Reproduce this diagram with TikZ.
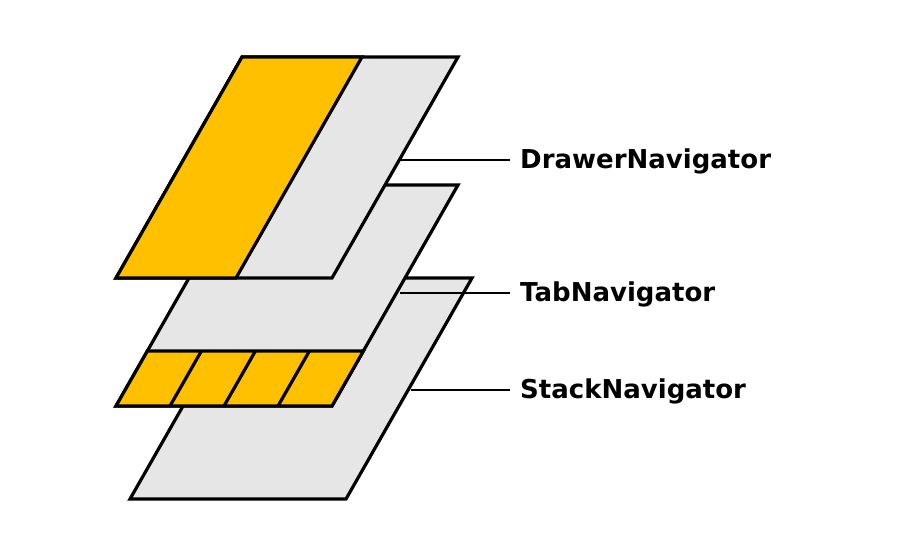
\documentclass[tikz,border=0pt]{standalone}
\usepackage{fontspec}
\setmainfont{DejaVu Sans}
\definecolor{navyellow}{HTML}{FFC000}
\definecolor{navgray}{HTML}{E7E6E6}
\begin{document}
\begin{tikzpicture}[x=1pt,y=-1pt,
  sheet/.style={draw=black,line width=3.2pt,line join=miter,fill=navgray},
  tabs/.style={draw=black,line width=3.2pt,line join=miter,fill=navyellow},
  leader/.style={draw=black,line width=1.5pt},
  lbl/.style={anchor=west,inner sep=0pt,font=\fontsize{26}{30}\selectfont\bfseries}]
\useasboundingbox (0,0) rectangle (900,553);
% Stack navigator sheet
\filldraw[sheet] (256,278) -- (472,278) -- (346,499) -- (130,499) -- cycle;
% Tab navigator sheet
\filldraw[sheet] (242,185) -- (458,185) -- (332,406) -- (116,406) -- cycle;
\filldraw[tabs] (147.4,351) -- (363.4,351) -- (332,406) -- (116,406) -- cycle;
\draw[line width=3.2pt] (201.4,351) -- (170,406);
\draw[line width=3.2pt] (255.4,351) -- (224,406);
\draw[line width=3.2pt] (309.4,351) -- (278,406);
% Drawer navigator sheet
\filldraw[sheet] (242,57) -- (458,57) -- (332,278) -- (116,278) -- cycle;
\filldraw[tabs] (242,57) -- (362,57) -- (236,278) -- (116,278) -- cycle;
% labels
\node[lbl] (drawer) at (520,161) {DrawerNavigator};
\node[lbl] (tab) at (520,294) {TabNavigator};
\node[lbl] (stack) at (520,391) {StackNavigator};
\coordinate (pd) at (400,160);
\coordinate (pt) at (400,293);
\coordinate (ps) at (411,390);
\draw[leader] (pd) -- ([xshift=-10pt]drawer.west |- pd);
\draw[leader] (pt) -- ([xshift=-10pt]tab.west |- pt);
\draw[leader] (ps) -- ([xshift=-10pt]stack.west |- ps);
\end{tikzpicture}
\end{document}
